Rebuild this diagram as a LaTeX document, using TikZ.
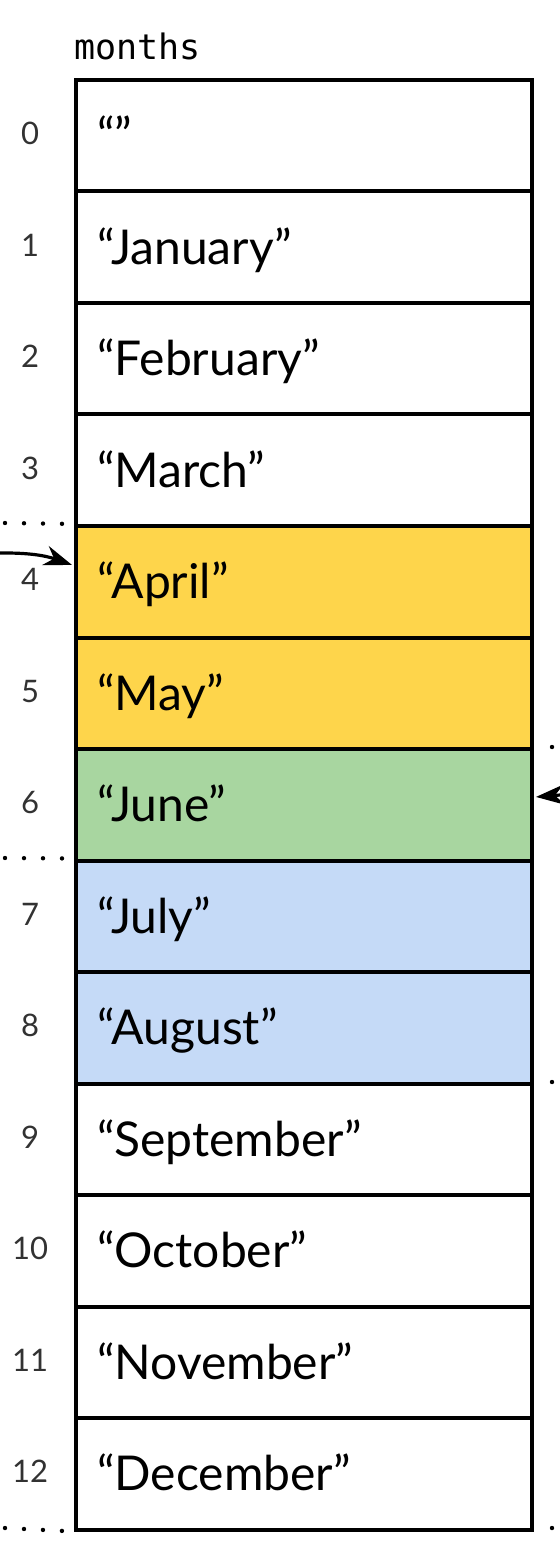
\documentclass[tikz,border=0pt]{standalone}
\usepackage{fontspec}
\setmainfont{Lato}
\setmonofont{DejaVu Sans Mono}
\usetikzlibrary{arrows.meta,positioning}
\definecolor{slotyellow}{RGB}{254,213,75}
\definecolor{slotgreen}{RGB}{168,214,160}
\definecolor{slotblue}{RGB}{197,218,247}
\definecolor{idxgray}{RGB}{50,50,50}
\tikzset{
  cell/.style={rectangle, draw=black, line width=2pt, fill=white,
               minimum width=228pt, minimum height=55.75pt,
               text width=207pt, inner xsep=10.5pt, align=left,
               text height=17.5pt, text depth=0.5pt,
               font=\fontsize{24}{28}\selectfont, anchor=north west},
  idx/.style={font=\fontsize{15.5}{18}\selectfont, text=idxgray},
  rangeline/.style={line width=2.2pt, line cap=round, dash pattern=on 0pt off 9.5pt},
  ptr/.style={-{Stealth[length=14pt,width=10pt,inset=4.5pt]}, line width=1.6pt},
}
\begin{document}
\begin{tikzpicture}[x=0.5pt, y=-0.5pt]
  \useasboundingbox (0,0) rectangle (560,1550);
  % array name
  \node[font=\ttfamily\fontsize{17.5}{20}\selectfont, anchor=base west, inner sep=0pt]
       (arrname) at (74,60) {months};
  % slots and indices
  \foreach \i/\m/\c in {0/{“”}/white, 1/{“January”}/white, 2/{“February”}/white,
      3/{“March”}/white, 4/{“April”}/slotyellow, 5/{“May”}/slotyellow,
      6/{“June”}/slotgreen, 7/{“July”}/slotblue, 8/{“August”}/slotblue,
      9/{“September”}/white, 10/{“October”}/white, 11/{“November”}/white,
      12/{“December”}/white} {
    \node[cell, fill=\c] (cell\i) at (74,{78+111.5*\i}) {\m};
    \node[idx] (idx\i) at (30,{133.75+111.5*\i}) {\i};
  }
  % range boundaries
  \coordinate (lo4) at (5,523);
  \coordinate (lo7) at (5,858);
  \coordinate (lo13) at (5,1528);
  \coordinate (hi6) at (552,747);
  \coordinate (hi9) at (552,1082);
  \coordinate (hi13) at (552,1528);
  \draw[rangeline] (lo4) -- (cell4.north west);
  \draw[rangeline] (lo7) -- (cell7.north west);
  \draw[rangeline] (lo13) -- (cell12.south west);
  \draw[rangeline] (hi6) -- (cell6.north east);
  \draw[rangeline] (hi9) -- (cell9.north east);
  \draw[rangeline] (hi13) -- (cell12.south east);
  % pointers
  \coordinate (srcL) at (0,553);
  \coordinate (srcR) at (560,795);
  \draw[ptr] (srcL) to[bend left=10] ([xshift=-1pt,yshift=8.4pt]cell4.west);
  \draw[ptr] (srcR) -- ([xshift=1pt,yshift=3.9pt]cell6.east);
\end{tikzpicture}
\end{document}
